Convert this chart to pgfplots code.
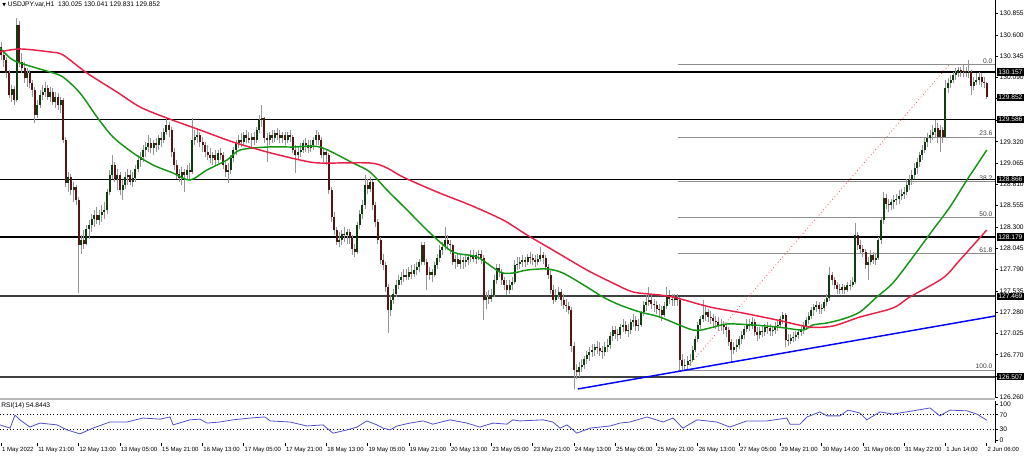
\documentclass[border=0pt]{standalone}
\usepackage{pgfplots}
\usepackage{pgfplotstable}
\pgfplotsset{compat=1.18}
\usepackage{fontspec}
\setmainfont{Liberation Sans}
\newfontfamily\dv{DejaVu Sans}
\definecolor{bullc}{RGB}{14,62,14}
\definecolor{bearc}{RGB}{86,20,20}
\definecolor{wickc}{RGB}{150,150,150}
\definecolor{magreen}{RGB}{20,150,20}
\definecolor{mared}{RGB}{232,32,72}
\definecolor{rsic}{RGB}{80,80,200}
\definecolor{fibc}{RGB}{140,140,140}
\newcommand{\tf}{\fontsize{5}{6}\selectfont}
\newcommand{\xf}{\fontsize{4.5}{5.5}\selectfont}

\pgfplotstableread{
o h l c
130.45 130.52 130.30 130.36
130.36 130.42 130.22 130.30
130.30 130.34 130.08 130.14
130.14 130.18 129.84 129.88
129.88 130.00 129.80 129.95
129.95 129.99 129.76 129.82
129.82 130.80 129.80 130.72
130.72 130.76 130.22 130.28
130.28 130.38 130.14 130.20
130.20 130.28 130.02 130.08
130.08 130.20 129.98 130.14
130.14 130.18 129.96 130.02
130.02 130.06 129.86 129.94
129.94 129.98 129.54 129.64
129.64 129.82 129.60 129.76
129.76 129.94 129.72 129.88
129.88 130.00 129.82 129.92
129.92 130.04 129.86 129.96
129.96 130.00 129.82 129.86
129.86 129.98 129.80 129.92
129.92 129.96 129.76 129.80
129.80 129.92 129.72 129.86
129.86 129.90 129.70 129.76
129.76 129.86 129.66 129.82
129.82 129.84 129.30 129.34
129.34 129.38 128.78 128.83
128.83 128.96 128.72 128.90
128.90 128.94 128.68 128.74
128.74 128.84 128.60 128.78
128.78 128.80 128.56 128.62
128.62 128.66 127.51 128.08
128.08 128.20 127.98 128.14
128.14 128.26 128.04 128.10
128.10 128.32 128.08 128.28
128.28 128.38 128.16 128.32
128.32 128.46 128.24 128.40
128.40 128.50 128.30 128.44
128.44 128.54 128.34 128.38
128.38 128.50 128.32 128.44
128.44 128.56 128.36 128.48
128.48 128.60 128.40 128.50
128.50 128.76 128.46 128.72
128.72 128.98 128.68 128.92
128.92 129.16 128.88 129.04
129.04 129.08 128.84 128.88
128.88 129.00 128.74 128.92
128.92 128.96 128.68 128.74
128.74 128.86 128.62 128.80
128.80 128.96 128.76 128.90
128.90 129.00 128.80 128.92
128.92 128.98 128.80 128.84
128.84 128.96 128.78 128.89
128.89 129.04 128.84 129.00
129.00 129.16 128.96 129.10
129.10 129.20 129.02 129.14
129.14 129.28 129.08 129.22
129.22 129.32 129.14 129.26
129.26 129.40 129.20 129.30
129.30 129.36 129.18 129.24
129.24 129.34 129.16 129.30
129.30 129.36 129.20 129.28
129.28 129.40 129.22 129.36
129.36 129.44 129.26 129.34
129.34 129.48 129.30 129.44
129.44 129.62 129.40 129.52
129.52 129.56 129.38 129.46
129.46 129.50 129.14 129.20
129.20 129.24 128.98 129.04
129.04 129.10 128.88 128.94
128.94 129.00 128.84 128.89
128.89 129.02 128.80 128.96
128.96 129.00 128.72 128.92
128.92 129.04 128.86 128.98
128.98 129.06 128.88 128.96
128.96 129.60 128.94 129.34
129.34 129.46 129.28 129.38
129.38 129.48 129.30 129.40
129.40 129.44 129.26 129.32
129.32 129.38 129.20 129.28
129.28 129.32 129.14 129.20
129.20 129.28 129.10 129.16
129.16 129.24 129.06 129.12
129.12 129.20 129.04 129.16
129.16 129.22 129.04 129.10
129.10 129.22 129.06 129.18
129.18 129.24 129.10 129.16
129.16 129.20 129.00 129.04
129.04 129.08 128.90 128.96
128.96 129.06 128.83 128.98
128.98 129.16 128.94 129.12
129.12 129.26 129.08 129.22
129.22 129.34 129.16 129.30
129.30 129.40 129.24 129.34
129.34 129.42 129.26 129.32
129.32 129.44 129.28 129.40
129.40 129.46 129.30 129.37
129.37 129.44 129.30 129.34
129.34 129.42 129.26 129.38
129.38 129.44 129.28 129.34
129.34 129.50 129.30 129.46
129.46 129.64 129.42 129.58
129.58 129.76 129.50 129.60
129.60 129.62 129.30 129.36
129.36 129.42 129.08 129.34
129.34 129.44 129.28 129.40
129.40 129.46 129.30 129.37
129.37 129.46 129.32 129.42
129.42 129.48 129.34 129.40
129.40 129.46 129.30 129.36
129.36 129.44 129.30 129.40
129.40 129.44 129.28 129.34
129.34 129.44 129.30 129.40
129.40 129.46 129.32 129.38
129.38 129.40 129.18 129.22
129.22 129.28 128.95 129.16
129.16 129.26 129.10 129.20
129.20 129.30 129.14 129.22
129.22 129.34 129.18 129.30
129.30 129.36 129.20 129.28
129.28 129.34 129.18 129.24
129.24 129.34 129.20 129.28
129.28 129.38 129.22 129.34
129.34 129.46 129.28 129.40
129.40 129.44 129.28 129.34
129.34 129.38 129.12 129.16
129.16 129.24 129.08 129.20
129.20 129.22 129.04 129.16
129.16 129.18 128.70 128.74
128.74 128.78 128.36 128.42
128.42 128.48 128.20 128.26
128.26 128.30 128.08 128.12
128.12 128.24 128.06 128.14
128.14 128.26 128.08 128.22
128.22 128.30 128.12 128.20
128.20 128.28 128.10 128.24
128.24 128.28 128.10 128.17
128.17 128.20 127.96 128.04
128.04 128.10 127.94 128.00
128.00 128.36 127.98 128.32
128.32 128.50 128.28 128.46
128.46 128.62 128.40 128.56
128.56 128.92 128.52 128.80
128.80 128.88 128.70 128.76
128.76 128.90 128.72 128.84
128.84 128.86 128.50 128.56
128.56 128.60 128.30 128.36
128.36 128.40 128.10 128.14
128.14 128.18 127.86 127.90
127.90 127.98 127.78 127.84
127.84 127.88 127.52 127.58
127.58 127.62 127.03 127.31
127.31 127.48 127.24 127.43
127.43 127.56 127.38 127.50
127.50 127.66 127.46 127.61
127.61 127.72 127.56 127.67
127.67 127.76 127.60 127.70
127.70 127.80 127.64 127.73
127.73 127.80 127.66 127.70
127.70 127.82 127.66 127.76
127.76 127.84 127.68 127.74
127.74 127.86 127.70 127.79
127.79 127.88 127.72 127.82
127.82 127.92 127.76 127.88
127.88 128.12 127.84 128.08
128.08 128.12 127.84 127.88
127.88 127.92 127.55 127.73
127.73 127.82 127.66 127.76
127.76 127.80 127.64 127.73
127.73 127.88 127.70 127.84
127.84 127.98 127.80 127.93
127.93 128.08 127.88 128.02
128.02 128.12 127.96 128.06
128.06 128.30 128.02 128.14
128.14 128.20 128.02 128.10
128.10 128.14 127.98 128.08
128.08 128.10 127.84 127.88
127.88 127.96 127.80 127.92
127.92 127.98 127.82 127.86
127.86 127.96 127.80 127.90
127.90 127.94 127.80 127.88
127.88 127.96 127.82 127.90
127.90 127.98 127.84 127.94
127.94 128.02 127.88 127.96
127.96 128.02 127.88 127.92
127.92 128.00 127.86 127.96
127.96 128.02 127.90 127.98
127.98 128.02 127.86 127.93
127.93 127.96 127.19 127.43
127.43 127.52 127.32 127.46
127.46 127.54 127.38 127.44
127.44 127.56 127.40 127.49
127.49 127.72 127.46 127.66
127.66 127.86 127.62 127.81
127.81 127.86 127.70 127.76
127.76 127.80 127.60 127.66
127.66 127.70 127.54 127.61
127.61 127.66 127.48 127.55
127.55 127.66 127.50 127.60
127.60 127.70 127.54 127.64
127.64 127.90 127.62 127.84
127.84 127.94 127.78 127.86
127.86 127.94 127.80 127.88
127.88 127.96 127.82 127.90
127.90 127.94 127.82 127.88
127.88 127.98 127.84 127.94
127.94 128.00 127.86 127.93
127.93 127.98 127.84 127.90
127.90 127.96 127.82 127.88
127.88 127.98 127.84 127.92
127.92 128.06 127.88 127.96
127.96 128.00 127.86 127.93
127.93 127.96 127.78 127.82
127.82 127.86 127.68 127.73
127.73 127.78 127.50 127.55
127.55 127.60 127.38 127.43
127.43 127.56 127.40 127.49
127.49 127.58 127.44 127.52
127.52 127.56 127.36 127.43
127.43 127.50 127.32 127.37
127.37 127.44 127.28 127.36
127.36 127.40 127.26 127.31
127.31 127.34 126.80 126.88
126.88 126.92 126.36 126.59
126.59 126.66 126.48 126.56
126.56 126.68 126.50 126.62
126.62 126.72 126.56 126.65
126.65 126.76 126.60 126.72
126.72 126.82 126.66 126.77
126.77 126.86 126.70 126.80
126.80 126.90 126.74 126.83
126.83 126.90 126.76 126.86
126.86 126.94 126.78 126.85
126.85 126.92 126.76 126.82
126.82 126.88 126.72 126.80
126.80 126.92 126.76 126.86
126.86 126.96 126.80 126.89
126.89 127.04 126.84 127.00
127.00 127.12 126.94 127.07
127.07 127.12 126.96 127.02
127.02 127.08 126.94 127.01
127.01 127.14 126.96 127.10
127.10 127.20 127.04 127.13
127.13 127.18 127.02 127.06
127.06 127.14 126.98 127.07
127.07 127.20 127.02 127.16
127.16 127.26 127.10 127.19
127.19 127.24 127.06 127.12
127.12 127.20 127.06 127.13
127.13 127.30 127.10 127.28
127.28 127.42 127.24 127.37
127.37 127.48 127.30 127.40
127.40 127.58 127.36 127.43
127.43 127.48 127.32 127.38
127.38 127.44 127.28 127.37
127.37 127.42 127.26 127.32
127.32 127.38 127.22 127.31
127.31 127.36 127.18 127.25
127.25 127.40 127.22 127.36
127.36 127.58 127.32 127.49
127.49 127.54 127.38 127.44
127.44 127.50 127.36 127.43
127.43 127.50 127.36 127.46
127.46 127.50 127.36 127.43
127.43 127.46 126.56 126.71
126.71 126.78 126.58 126.64
126.64 126.72 126.58 126.65
126.65 126.76 126.60 126.70
126.70 126.78 126.64 126.71
126.71 126.88 126.68 126.83
126.83 127.00 126.80 126.96
126.96 127.16 126.92 127.13
127.13 127.24 127.08 127.20
127.20 127.43 127.16 127.25
127.25 127.34 127.18 127.28
127.28 127.32 127.16 127.22
127.22 127.30 127.14 127.21
127.21 127.26 127.10 127.18
127.18 127.24 127.08 127.16
127.16 127.22 127.06 127.12
127.12 127.20 127.06 127.13
127.13 127.18 127.02 127.10
127.10 127.14 126.98 127.07
127.07 127.10 126.88 126.92
126.92 126.96 126.68 126.83
126.83 126.92 126.78 126.86
126.86 126.96 126.80 126.89
126.89 127.00 126.84 126.96
126.96 127.06 126.90 127.01
127.01 127.12 126.96 127.08
127.08 127.20 127.04 127.13
127.13 127.20 127.06 127.12
127.12 127.22 127.08 127.16
127.16 127.20 127.00 127.04
127.04 127.10 126.94 127.01
127.01 127.10 126.96 127.06
127.06 127.12 126.98 127.04
127.04 127.14 127.00 127.10
127.10 127.16 127.02 127.09
127.09 127.14 127.00 127.05
127.05 127.12 127.00 127.07
127.07 127.16 127.02 127.12
127.12 127.18 127.06 127.13
127.13 127.24 127.10 127.20
127.20 127.28 127.14 127.25
127.25 127.27 126.86 126.95
126.95 127.02 126.88 126.94
126.94 127.02 126.90 126.97
126.97 127.04 126.92 126.98
126.98 127.06 126.94 127.01
127.01 127.08 126.96 127.04
127.04 127.12 127.00 127.07
127.07 127.16 127.02 127.12
127.12 127.22 127.08 127.19
127.19 127.28 127.14 127.24
127.24 127.34 127.20 127.31
127.31 127.38 127.24 127.34
127.34 127.42 127.28 127.37
127.37 127.40 127.26 127.32
127.32 127.38 127.26 127.33
127.33 127.44 127.30 127.40
127.40 127.50 127.36 127.45
127.45 127.82 127.42 127.73
127.73 127.76 127.60 127.66
127.66 127.70 127.56 127.61
127.61 127.64 127.50 127.56
127.56 127.62 127.50 127.55
127.55 127.62 127.50 127.58
127.58 127.60 127.50 127.55
127.55 127.64 127.52 127.60
127.60 127.66 127.54 127.61
127.61 127.70 127.58 127.64
127.64 128.35 127.62 128.20
128.20 128.24 128.02 128.08
128.08 128.14 127.98 128.04
128.04 128.08 127.94 128.00
128.00 128.04 127.80 127.84
127.84 127.94 127.67 127.88
127.88 128.02 127.84 127.96
127.96 128.00 127.86 127.90
127.90 127.98 127.84 127.93
127.93 128.18 127.90 128.14
128.14 128.42 128.10 128.38
128.38 128.72 128.34 128.65
128.65 128.70 128.52 128.58
128.58 128.64 128.48 128.56
128.56 128.64 128.50 128.60
128.60 128.68 128.52 128.62
128.62 128.70 128.56 128.64
128.64 128.74 128.58 128.67
128.67 128.76 128.62 128.70
128.70 128.78 128.64 128.72
128.72 128.88 128.68 128.80
128.80 128.92 128.74 128.86
128.86 128.98 128.80 128.92
128.92 129.06 128.88 129.01
129.01 129.12 128.94 129.08
129.08 129.20 129.02 129.16
129.16 129.28 129.10 129.22
129.22 129.36 129.18 129.32
129.32 129.42 129.26 129.36
129.36 129.46 129.30 129.40
129.40 129.52 129.34 129.44
129.44 129.58 129.38 129.48
129.48 129.54 129.30 129.38
129.38 129.52 129.20 129.46
129.46 129.50 129.30 129.38
129.38 130.06 129.36 129.96
129.96 130.08 129.90 130.02
130.02 130.12 129.96 130.06
130.06 130.16 130.02 130.12
130.12 130.20 130.06 130.14
130.14 130.22 130.10 130.18
130.18 130.22 130.10 130.15
130.15 130.24 130.10 130.17
130.17 130.22 130.10 130.14
130.14 130.30 130.08 130.15
130.15 130.18 129.88 129.99
129.99 130.10 129.94 130.04
130.04 130.14 130.00 130.06
130.06 130.16 130.00 130.10
130.10 130.14 129.98 130.03
130.03 130.10 129.96 130.025
130.025 130.041 129.831 129.852
}\ohlc

\begin{document}
\begin{tikzpicture}
\fill[white] (0,0) rectangle (1,1);

\begin{axis}[
  name=main,
  at={(0pt,0pt)}, anchor=north west, scale only axis,
  width=746.25pt, height=298.5pt,
  xmin=-0.504, xmax=385.2, ymin=126.253, ymax=131.017,
  clip=false,
  axis x line=none, axis y line*=right,
  y axis line style={black, line width=0.75pt},
  xtick=\empty,
  ytick={130.855,130.600,130.345,130.090,129.835,129.580,129.320,129.065,128.810,128.555,128.300,128.045,127.790,127.535,127.280,127.025,126.770,126.515,126.260},
  yticklabels={130.855,130.600,130.345,130.090,129.835,129.580,129.320,129.065,128.810,128.555,128.300,128.045,127.790,127.535,127.280,127.025,126.770,126.515,126.260},
  tick align=outside, major tick length=2.25pt,
  ytick style={black, line width=0.5pt},
  yticklabel style={font=\tf, inner sep=1pt},
]
% support / resistance levels
\addplot[black, line width=1pt] coordinates {(-0.504,130.157) (385.2,130.157)};
\addplot[black, line width=1pt] coordinates {(-0.504,129.586) (385.2,129.586)};
\addplot[black, line width=1pt] coordinates {(-0.504,128.866) (385.2,128.866)};
\addplot[black, line width=1pt] coordinates {(-0.504,128.179) (385.2,128.179)};
\addplot[black!75, line width=1.4pt] coordinates {(-0.504,127.469) (385.2,127.469)};
\addplot[black!75, line width=1.4pt] coordinates {(-0.504,126.507) (385.2,126.507)};
% fibonacci levels
\addplot[fibc, line width=0.75pt] coordinates {(262.3,130.239) (385.2,130.239)};
\addplot[fibc, line width=0.75pt] coordinates {(262.3,129.377) (385.2,129.377)};
\addplot[fibc, line width=0.75pt] coordinates {(262.3,128.844) (385.2,128.844)};
\addplot[fibc, line width=0.75pt] coordinates {(262.3,128.414) (385.2,128.414)};
\addplot[fibc, line width=0.75pt] coordinates {(262.3,127.983) (385.2,127.983)};
\addplot[fibc, line width=0.75pt] coordinates {(262.3,126.588) (385.2,126.588)};
\addplot[red!70, dotted, line width=0.6pt] coordinates {(265.0,126.588) (367.3,130.239)};
\node[anchor=south east, font=\tf, inner sep=0.6pt, text=black!75] at (axis cs:384.6,130.239) {0.0};
\node[anchor=south east, font=\tf, inner sep=0.6pt, text=black!75] at (axis cs:384.6,129.377) {23.6};
\node[anchor=south east, font=\tf, inner sep=0.6pt, text=black!75] at (axis cs:384.6,128.844) {38.2};
\node[anchor=south east, font=\tf, inner sep=0.6pt, text=black!75] at (axis cs:384.6,128.414) {50.0};
\node[anchor=south east, font=\tf, inner sep=0.6pt, text=black!75] at (axis cs:384.6,127.983) {61.8};
\node[anchor=south east, font=\tf, inner sep=0.6pt, text=black!75] at (axis cs:384.6,126.588) {100.0};
% candles: wicks
\addplot[draw=none, mark=none, forget plot, error bars/.cd, y dir=plus, y explicit, error mark=none,
  error bar style={draw=wickc, line width=0.7pt}]
  table[x expr=\coordindex, y=l, y error plus expr=\thisrow{h}-\thisrow{l}] {\ohlc};
% bull bodies
\addplot[draw=none, mark=none, forget plot, error bars/.cd, y dir=plus, y explicit, error mark=none,
  error bar style={draw=bullc, line width=1.5pt, line cap=butt}]
  table[x expr=\coordindex, y=o, y error plus expr={max(\thisrow{c}-\thisrow{o},0)}] {\ohlc};
% bear bodies
\addplot[draw=none, mark=none, forget plot, error bars/.cd, y dir=plus, y explicit, error mark=none,
  error bar style={draw=bearc, line width=1.5pt, line cap=butt}]
  table[x expr=\coordindex, y=c, y error plus expr={max(\thisrow{o}-\thisrow{c},0)}] {\ohlc};
% moving averages
\addplot[magreen, line width=1.1pt, smooth] coordinates {
(-0.5,130.442) (4.5,130.299) (12.3,130.215) (18.9,130.155) (23.9,130.095) (30.5,129.904)
(37.1,129.616) (43.3,129.377) (51.1,129.186) (58.8,129.042) (66.6,128.946) (73.1,128.862)
(79.7,128.982) (87.5,129.102) (92.5,129.221) (103,129.257) (113,129.257) (123.5,129.257)
(136.3,129.066) (142.9,128.958) (149.5,128.743) (157.3,128.503) (166.2,128.228) (175.1,128.001)
(184.4,127.941) (193.3,127.761) (198.3,127.749) (203.8,127.785) (211.5,127.797) (217.7,127.749)
(227,127.582) (233.2,127.462) (239.8,127.366) (247.6,127.282) (255.3,127.222) (268.1,127.067)
(274.7,127.091) (281.3,127.139) (291.4,127.127) (300.7,127.103) (310.7,127.067) (314.6,127.127)
(320,127.151) (326.3,127.199) (332.8,127.282) (339.4,127.462) (345.6,127.629) (353.4,127.941)
(361.1,128.264) (367.7,128.539) (374.3,128.862) (377.4,129.006) (382,129.221)};
\addplot[mared, line width=1.1pt, smooth] coordinates {
(-0.5,130.395) (7.2,130.431) (18.9,130.395) (23.9,130.359) (33.2,130.143) (44.8,129.916)
(53.8,129.736) (64.2,129.604) (77,129.461) (89.8,129.317) (103,129.198) (115.8,129.102)
(123.5,129.066) (142.9,129.066) (149.5,129.006) (155.7,128.898) (168.9,128.719) (181.7,128.563)
(194.5,128.384) (203.8,128.204) (213.8,128.024) (227,127.785) (237.1,127.629) (244.9,127.522)
(255.3,127.486) (261.9,127.450) (274.7,127.342) (287.5,127.270) (300.7,127.187) (313.3,127.103)
(322.4,127.115) (332.8,127.222) (345.6,127.330) (352.2,127.462) (365,127.689) (371.6,127.905)
(382,128.264)};
% trend line
\addplot[blue, line width=1.1pt] coordinates {(223.5,126.361) (385.2,127.234)};
% anchor points for price markers
\coordinate (m1) at (axis cs:385.2,130.157);
\coordinate (m2) at (axis cs:385.2,129.852);
\coordinate (m3) at (axis cs:385.2,129.586);
\coordinate (m4) at (axis cs:385.2,128.866);
\coordinate (m5) at (axis cs:385.2,128.179);
\coordinate (m6) at (axis cs:385.2,127.469);
\coordinate (m7) at (axis cs:385.2,126.507);
\end{axis}

% RSI panel
\begin{axis}[
  name=rsi,
  at={(main.south west)}, anchor=north west, yshift=-2.25pt, scale only axis,
  width=746.25pt, height=31.5pt,
  xmin=-0.504, xmax=385.2, ymin=-8.3, ymax=108.3,
  axis x line*=bottom, axis y line*=right,
  x axis line style={draw=none},
  y axis line style={black, line width=0.75pt},
  ytick={0,30,70,100}, yticklabels={0,30,70,100},
  xtick={0,14,30,46,62,78,94,110,126,142,158,174,190,206,222,238,254,270,286,302,318,334,350,366,382},
  xticklabels={1 May 2022,11 May 21:00,12 May 13:00,13 May 05:00,15 May 21:00,16 May 13:00,17 May 05:00,17 May 21:00,18 May 13:00,19 May 05:00,19 May 21:00,20 May 13:00,23 May 05:00,23 May 21:00,24 May 13:00,25 May 05:00,25 May 21:00,26 May 13:00,27 May 05:00,29 May 21:00,30 May 14:00,31 May 06:00,31 May 22:00,1 Jun 14:00,2 Jun 06:00},
  tick align=outside, major tick length=2.25pt,
  tick style={black, line width=0.5pt},
  yticklabel style={font=\tf, inner sep=1pt},
  xticklabel style={font=\xf, anchor=north west, inner sep=1pt, xshift=-0.5pt},
]
\addplot[black, dotted, line width=0.5pt] coordinates {(-0.504,70) (385.2,70)};
\addplot[black, dotted, line width=0.5pt] coordinates {(-0.504,30) (385.2,30)};
\addplot[rsic, line width=0.6pt] coordinates {
(-0.5,42) (3.4,33) (5.3,69) (7.2,56) (11.1,36) (15,47) (21.6,42) (25.5,28) (30.5,17) (35.5,33)
(42.1,50) (48.7,50) (54.9,61) (61.5,58) (65.4,64) (66.6,42) (73.1,56) (77,58) (79.7,47) (84.8,50)
(89.8,56) (96.4,61) (102.2,64) (104.2,53) (111.9,50) (118.5,39) (124.7,42) (128.6,19) (134,28)
(137.9,36) (141.7,53) (145.6,42) (148,33) (150.7,28) (153.4,39) (158.4,47) (163.5,53) (167.3,44)
(173.9,56) (180.5,47) (185.5,36) (190.6,47) (196,44) (198.3,56) (201,53) (210,56) (213.8,50)
(216.6,33) (219.3,42) (223.1,19) (228.2,33) (236,39) (239.8,47) (243.7,50) (250.3,64) (256.5,50)
(260.4,61) (264.2,33) (269.7,56) (277.4,50) (282.4,36) (289,53) (296.8,53) (304.5,61) (305.7,44)
(309.6,44) (312.3,64) (317.3,78) (320.1,67) (325.1,67) (328.2,83) (332.8,75) (335.5,56) (340.6,78)
(345.6,72) (353.4,81) (360,89) (363.8,67) (367.7,83) (374.3,81) (378.2,72) (382,55)};
\end{axis}

% panel separator
\draw[gray!55, line width=1.8pt] ([yshift=-0.6pt]main.south west) -- ([yshift=-0.6pt]main.south east);

% price markers
\foreach \mm/\tx in {m1/130.157, m2/129.852, m3/129.586, m4/128.866, m5/128.179, m6/127.469, m7/126.507}{
  \node[fill=black, text=white, font=\tf, anchor=west, inner xsep=1.2pt, inner ysep=1pt] at ([xshift=1.1pt]\mm) {\tx};
}

% titles
\node[anchor=north west, font=\tf, inner sep=0pt] at ([xshift=1.5pt,yshift=-1.5pt]main.north west) {{\dv\fontsize{3.6}{4}\selectfont ▼}\ USDJPY.var,H1\ \ 130.025 130.041 129.831 129.852};
\node[anchor=north west, font=\tf, inner sep=0pt] at ([xshift=0.75pt,yshift=-1pt]rsi.north west) {RSI(14) 54.8443};

% fixed page frame: 1024 x 456 px
\pgfresetboundingbox
\useasboundingbox (main.north west) rectangle ([xshift=21.75pt,yshift=-9.75pt]rsi.south east);
\end{tikzpicture}
\end{document}
